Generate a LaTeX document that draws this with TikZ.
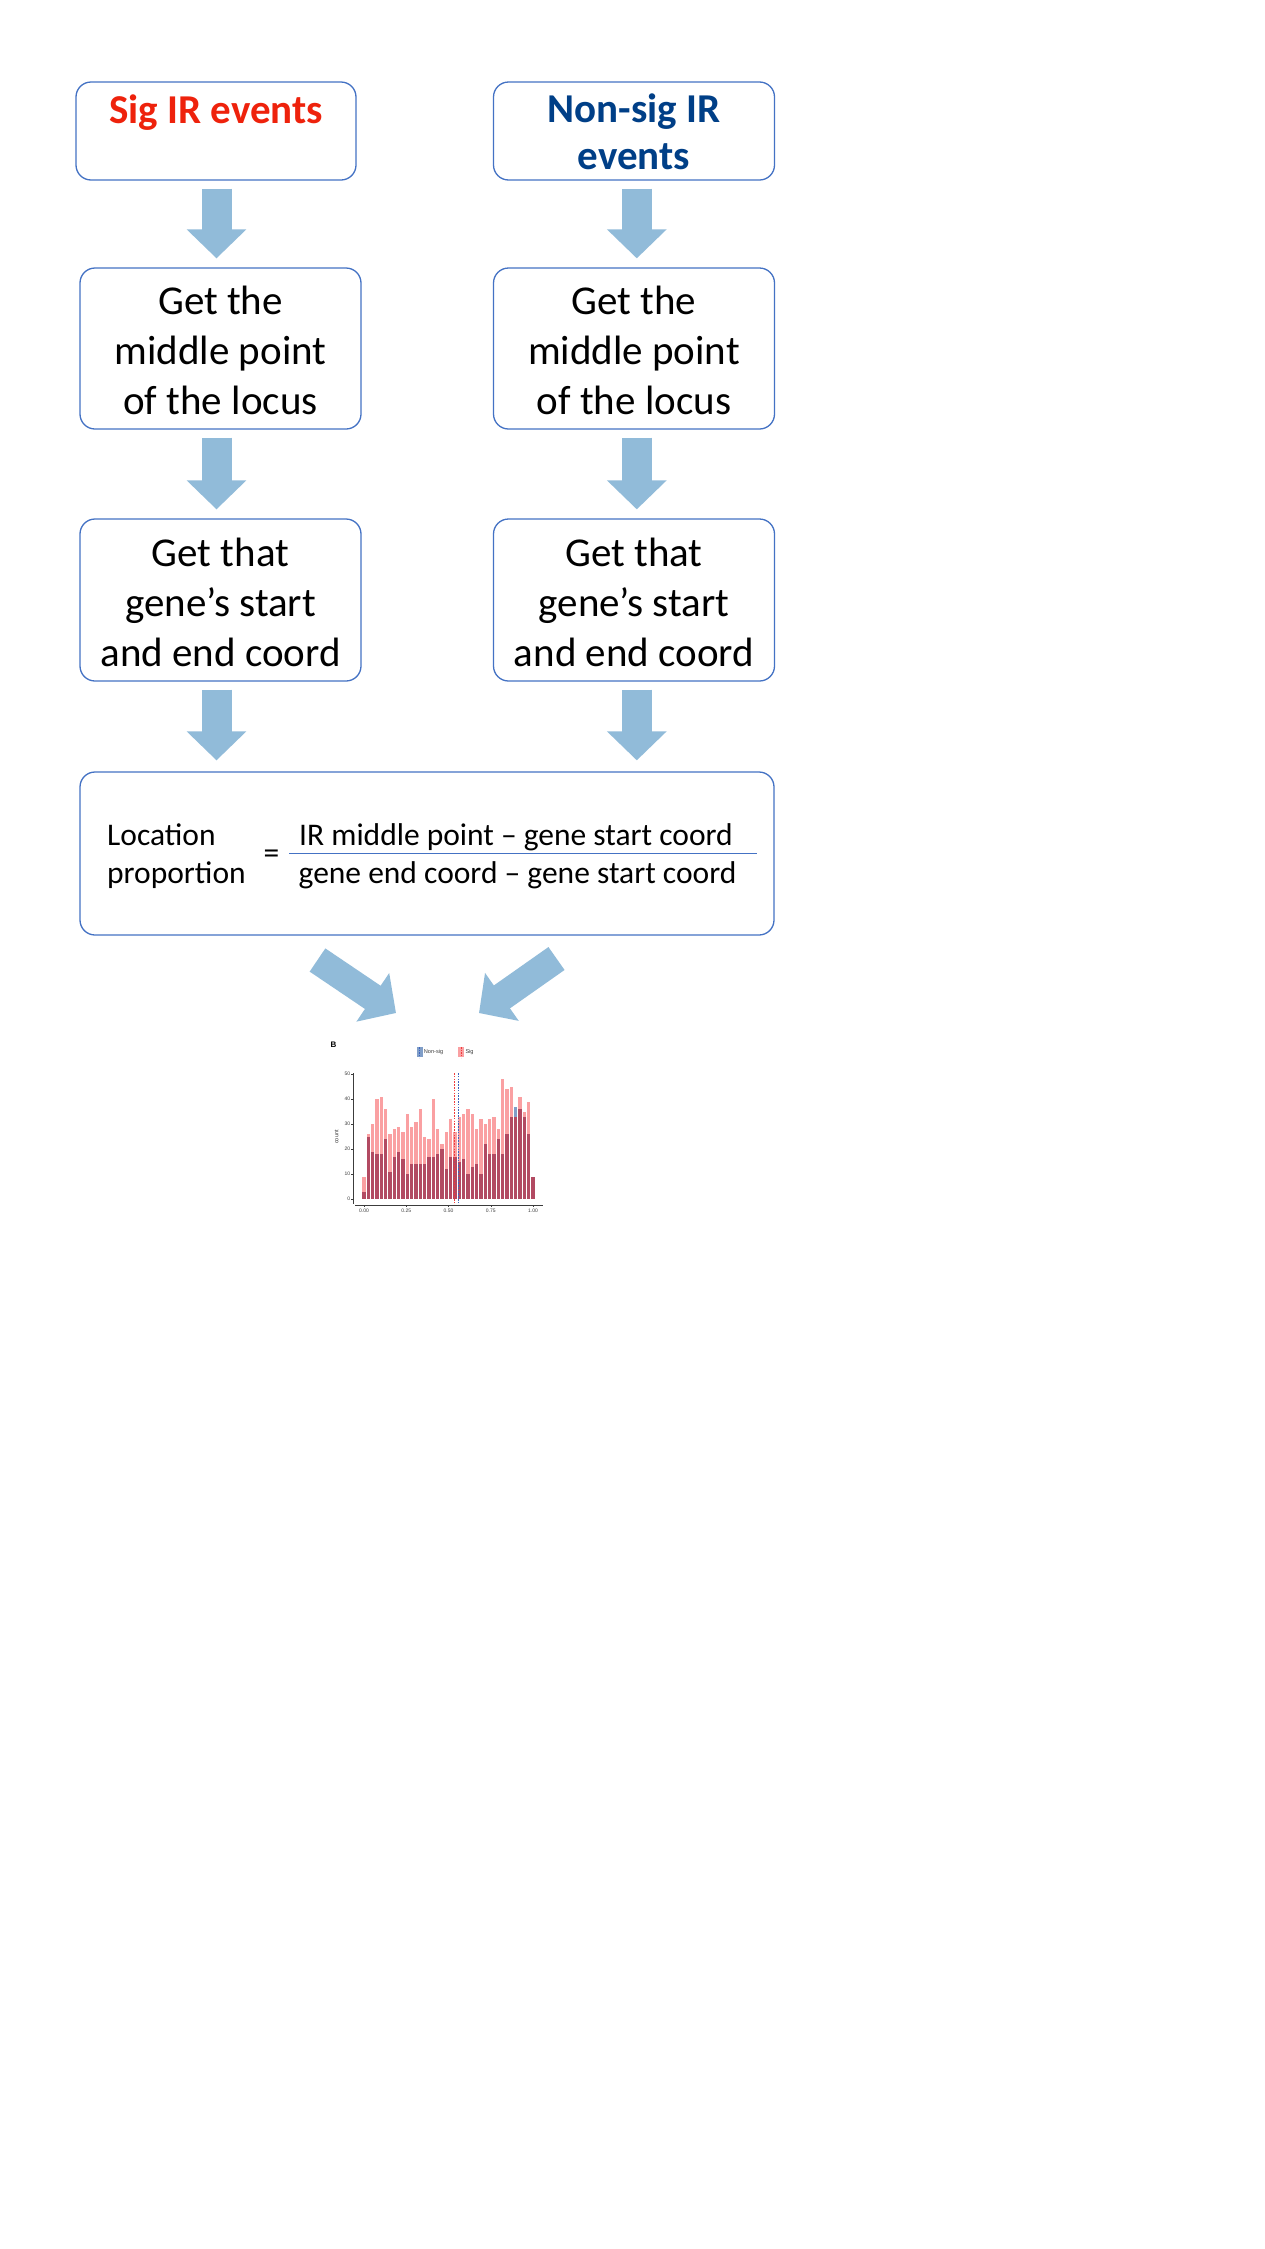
\documentclass[tikz,border=0pt]{standalone}
\usepackage{fontspec}
\setmainfont{Carlito}
\newfontfamily\hfont{Liberation Sans}
\usetikzlibrary{arrows.meta,calc}
\definecolor{boxblue}{RGB}{68,114,196}
\definecolor{arrowblue}{RGB}{145,187,217}
\definecolor{sigred}{RGB}{238,34,12}
\definecolor{navytxt}{RGB}{0,63,135}
\definecolor{sigpink}{RGB}{250,160,162}
\definecolor{overlapc}{RGB}{178,74,98}
\definecolor{nsblue}{RGB}{128,158,200}
\definecolor{dashred}{RGB}{240,60,60}
\definecolor{dashblue}{RGB}{60,100,190}
\definecolor{axisgray}{RGB}{60,60,60}
\begin{document}
\begin{tikzpicture}[x=1pt,y=-1pt,
  box/.style={draw=boxblue, line width=1.3pt, rounded corners=15pt, inner sep=0pt, minimum width=281pt, minimum height=161pt},
  bigtext/.style={font=\fontsize{41}{50}\selectfont, align=center, inner sep=0pt},
  titletext/.style={font=\fontsize{41}{47}\selectfont\bfseries, align=center, inner sep=0pt},
  downarrow/.style={draw=arrowblue, line width=30pt, -{Triangle[length=29pt,width=58pt]}, shorten <=8pt, shorten >=9pt},
  diagarrow/.style={draw=arrowblue, line width=28pt, -{Triangle[length=28pt,width=57pt]}},
  ticklab/.style={font=\hfont\fontsize{5}{6}\selectfont, text=axisgray, inner sep=0.6pt},
  legendlab/.style={font=\hfont\fontsize{5.6}{6.5}\selectfont, text=axisgray, inner sep=0.8pt, anchor=west},
]
\fill[white] (0,0) rectangle (1265,2249);
\useasboundingbox (0,0) rectangle (1265,2249);

% column guide coordinates
\coordinate (cl) at (216.5,0);
\coordinate (cr) at (636.8,0);

% top boxes
\node[box, minimum width=280pt, minimum height=98pt] (t1) at (216,131) {};
\node[box, minimum width=281pt, minimum height=98pt] (t2) at (634,131) {};
\node[titletext, text=sigred] (t1txt) at (216,113) {Sig IR events};
\node[titletext, text=navytxt] (t2txt) at (634,132) {Non-sig IR\\events};

% middle boxes
\node[box] (m1) at (220.5,348.5) {};
\node[box] (m2) at (634,348.5) {};
\node[bigtext] (m1txt) at (220.5,350) {Get the\\middle point\\of the locus};
\node[bigtext] (m2txt) at (634,350) {Get the\\middle point\\of the locus};

% gene boxes
\node[box, minimum height=162pt] (g1) at (220.5,600) {};
\node[box, minimum height=162pt] (g2) at (634,600) {};
\node[bigtext] (g1txt) at (220.5,602) {Get that\\gene’s start\\and end coord};
\node[bigtext] (g2txt) at (634,602) {Get that\\gene’s start\\and end coord};

% formula box
\node[box, minimum width=694pt, minimum height=163pt] (f) at (427,853.5) {};
\node[font=\fontsize{31.5}{38}\selectfont, align=left, inner sep=0pt, anchor=west] (loc) at (107,856) {Location\\proportion};
\node[font=\fontsize{31.5}{38}\selectfont, inner sep=0pt] (eq) at (271.5,857) {=};
\node[font=\fontsize{31.5}{38}\selectfont, inner sep=0pt, anchor=base] (num) at (516,845) {IR middle point – gene start coord};
\node[font=\fontsize{31.5}{38}\selectfont, inner sep=0pt, anchor=base] (den) at (517.5,883) {gene end coord – gene start coord};
\coordinate (fl0) at (289.3,853.3);
\coordinate (fl1) at (757,853.3);
\draw[boxblue, line width=1.3pt] (fl0) -- (fl1);

% vertical block arrows
\draw[downarrow] (cl |- t1.south) -- (cl |- m1.north);
\draw[downarrow] (cr |- t2.south) -- (cr |- m2.north);
\draw[downarrow] (cl |- m1.south) -- (cl |- g1.north);
\draw[downarrow] (cr |- m2.south) -- (cr |- g2.north);
\draw[downarrow, shorten >=11pt] (cl |- g1.south) -- (cl |- f.north);
\draw[downarrow, shorten >=11pt] (cr |- g2.south) -- (cr |- f.north);

% diagonal arrows
\coordinate (la0) at (317.5,960);
\coordinate (la1) at (396,1013);
\coordinate (ra0) at (556.5,958.5);
\coordinate (ra1) at (479,1013);
\draw[diagarrow] (la0) -- (la1);
\draw[diagarrow] (ra0) -- (ra1);

% histogram
\node[font=\hfont\bfseries\fontsize{8}{9}\selectfont, inner sep=0pt] (hb) at (333.5,1045) {B};
\node[draw=none, fill=nsblue, minimum width=6pt, minimum height=10pt, inner sep=0pt] (kns) at (419.7,1052.3) {};
\draw[dashblue, line width=0.8pt, dash pattern=on 1.4pt off 1.2pt] (kns.north) -- (kns.south);
\node[legendlab] (lns) at (kns.east) {Non-sig};
\node[draw=none, fill=sigpink, minimum width=6pt, minimum height=10pt, inner sep=0pt] (ksig) at (461.3,1052.3) {};
\draw[dashred, line width=0.8pt, dash pattern=on 1.4pt off 1.2pt] (ksig.north) -- (ksig.south);
\node[legendlab] (lsig) at (ksig.east) {Sig};

\foreach \s/\n [count=\i from 0] in {9/3,26/25,30/19,40/18,41/18,36/24,26/11,28/17,29/19,27/16,34/10,29/14,31/14,36/14,25/14,24/17,40/17,28/18,22/20,27/12,32/17,27/17,33/15,34/16,36/10,34/13,28/14,32/10,30/22,32/18,33/18,28/24,48/18,44/26,45/33,33/37,41/36,35/33,39/26,9/9} {
  \pgfmathsetmacro\bx{364+169*\i/39}
  \pgfmathsetmacro\mn{min(\s,\n)}
  \fill[nsblue] (\bx-1.8,1199) rectangle (\bx+1.8,{1199-2.5*\n});
  \fill[sigpink] (\bx-1.8,1199) rectangle (\bx+1.8,{1199-2.5*\s});
  \fill[overlapc] (\bx-1.8,1199) rectangle (\bx+1.8,{1199-2.5*\mn});
}
\draw[dashred, line width=0.9pt, dash pattern=on 1.6pt off 1.2pt] (454.3,1073) -- (454.3,1207);
\draw[dashblue, line width=0.9pt, dash pattern=on 1.6pt off 1.2pt] (458.3,1073) -- (458.3,1207);

% axes
\draw[axisgray, line width=0.6pt] (353.3,1073) -- (353.3,1203.5);
\draw[axisgray, line width=0.6pt] (355,1205.3) -- (543,1205.3);
\foreach \c in {0,10,20,30,40,50} {
  \draw[axisgray, line width=0.5pt] (351.3,{1199-2.5*\c}) -- (353.3,{1199-2.5*\c});
  \node[ticklab, anchor=east] at (351,{1199-2.5*\c}) {\c};
}
\foreach \v/\t in {0/0.00,0.25/0.25,0.5/0.50,0.75/0.75,1/1.00} {
  \draw[axisgray, line width=0.5pt] ({364+169*\v},1205.3) -- ({364+169*\v},1207.3);
  \node[ticklab, anchor=north] at ({364+169*\v},1207.8) {\t};
}
\node[ticklab, rotate=90, font=\hfont\fontsize{5.6}{6.5}\selectfont] (ylab) at (336.5,1137) {count};
\end{tikzpicture}
\end{document}
